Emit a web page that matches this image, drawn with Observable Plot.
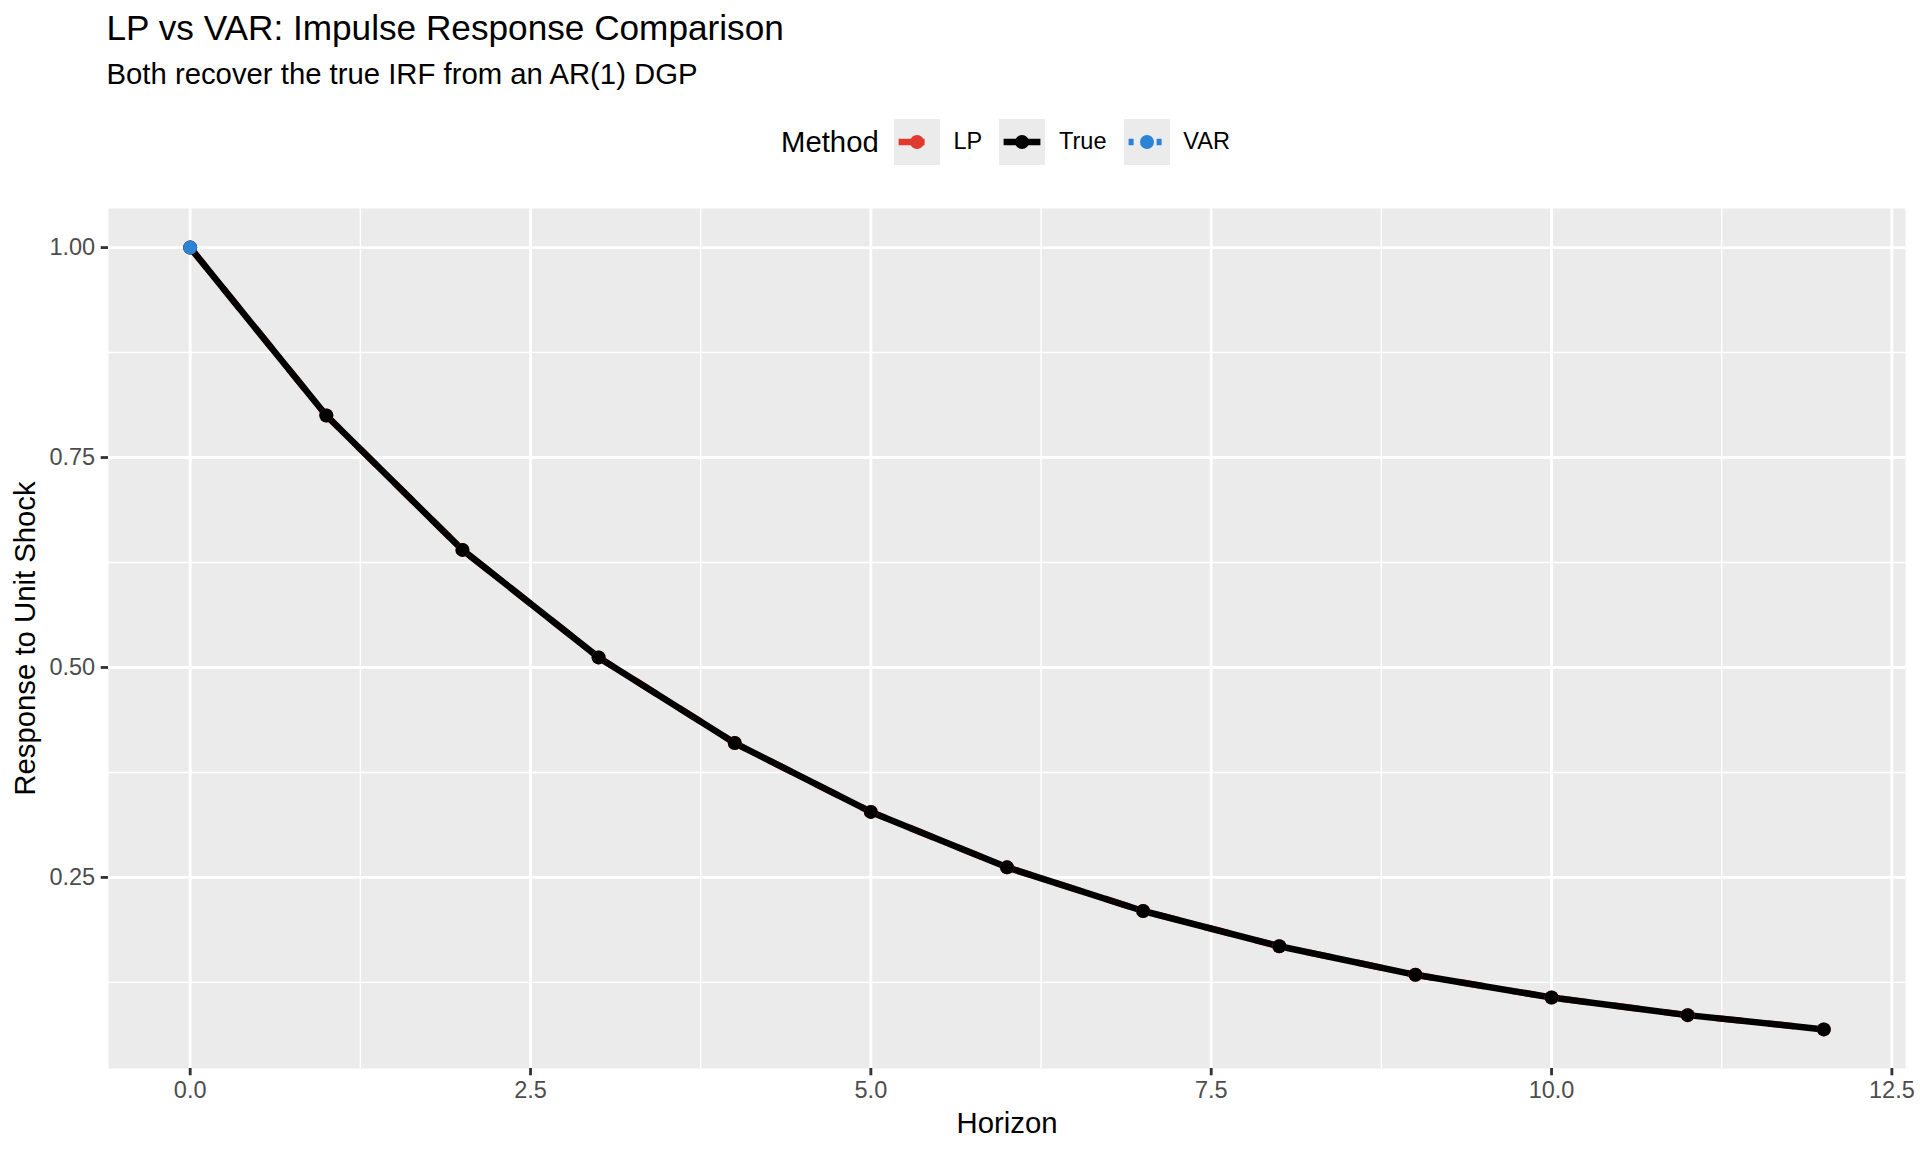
<!DOCTYPE html>
<html><head><meta charset="utf-8">
<script src="https://cdn.jsdelivr.net/npm/d3@7"></script>
<script src="https://cdn.jsdelivr.net/npm/@observablehq/plot@0.6"></script>
<style>
body{margin:0;background:#fff;font-family:"Liberation Sans",Arial,Helvetica,sans-serif;}
#wrap{position:relative;width:1920px;height:1152px;background:#fff;}
#head{position:relative;width:1920px;height:170px;}
.t{position:absolute;white-space:nowrap;line-height:1;color:#000;}
#legend{position:absolute;left:781px;top:119px;height:46px;display:flex;align-items:center;}
#legend .lt{font-size:29.3px;line-height:1;margin-right:15px;}
#legend .lab{font-size:23.5px;line-height:1;margin-left:13.8px;margin-right:17px;}
#legend svg{display:block;}
</style></head><body>
<div id="wrap">
  <div id="head">
    <div class="t" id="title" style="left:106.5px;top:9.5px;font-size:35.2px;"></div>
    <div class="t" id="subtitle" style="left:106.5px;top:58.5px;font-size:29.3px;"></div>
    <div id="legend"></div>
  </div>
  <div id="chart"></div>
</div>
<script>
// ---- data ----
const horizon = [0, 1, 2, 3, 4, 5, 6, 7, 8, 9, 10, 11, 12];
const trueIRF = [1.000, 0.800, 0.640, 0.512, 0.410, 0.328, 0.262, 0.210, 0.168, 0.134, 0.107, 0.086, 0.069];
const lpIRF   = [1.000, 0.800, 0.640, 0.512, 0.410, 0.328, 0.262, 0.210, 0.168, 0.134, 0.107, 0.086, 0.069];
const varHorizon = [0];
const varIRF = [1.000];
const methods = ["LP", "True", "VAR"];
const xTicks = [0, 2.5, 5, 7.5, 10, 12.5];
const xMinor = [1.25, 3.75, 6.25, 8.75, 11.25];
const yTicks = [0.25, 0.50, 0.75, 1.00];
const yMinor = [0.125, 0.375, 0.625, 0.875];
const titleText = "LP vs VAR: Impulse Response Comparison";
const subtitleText = "Both recover the true IRF from an AR(1) DGP";
const legendTitle = "Method";
const xLabel = "Horizon";
const yLabel = "Response to Unit Shock";

// ---- styles ----
const colors = {LP: "#E0392F", True: "#000000", VAR: "#2B83D6"};
const dashes = {LP: "26,26", True: null, VAR: "5,23"};
const lineW = 6.5;
const dotR = 7;
const panelFill = "#EBEBEB";

document.getElementById("title").textContent = titleText;
document.getElementById("subtitle").textContent = subtitleText;

// ---- legend ----
const legend = document.getElementById("legend");
const lt = document.createElement("div");
lt.className = "lt"; lt.textContent = legendTitle;
legend.appendChild(lt);
const ns = "http://www.w3.org/2000/svg";
methods.forEach(m => {
  const svg = document.createElementNS(ns, "svg");
  svg.setAttribute("width", 46); svg.setAttribute("height", 46);
  const r = document.createElementNS(ns, "rect");
  r.setAttribute("width", 46); r.setAttribute("height", 46); r.setAttribute("fill", panelFill);
  svg.appendChild(r);
  const l = document.createElementNS(ns, "line");
  l.setAttribute("x1", 4.6); l.setAttribute("x2", 41.4); l.setAttribute("y1", 23); l.setAttribute("y2", 23);
  l.setAttribute("stroke", colors[m]); l.setAttribute("stroke-width", lineW);
  l.setAttribute("stroke-linecap", "butt");
  if (dashes[m]) l.setAttribute("stroke-dasharray", dashes[m]);
  svg.appendChild(l);
  const c = document.createElementNS(ns, "circle");
  c.setAttribute("cx", 23); c.setAttribute("cy", 23); c.setAttribute("r", dotR); c.setAttribute("fill", colors[m]);
  svg.appendChild(c);
  legend.appendChild(svg);
  const lab = document.createElement("div");
  lab.className = "lab"; lab.textContent = m;
  legend.appendChild(lab);
});

// ---- chart ----
const trueData = horizon.map((h, i) => ({h, v: trueIRF[i]}));
const lpData = horizon.map((h, i) => ({h, v: lpIRF[i]}));
const varData = varHorizon.map((h, i) => ({h, v: varIRF[i]}));

const allV = trueIRF.concat(lpIRF, varIRF);
const vMin = d3.min(allV), vMax = d3.max(allV);
const yPad = (vMax - vMin) * 0.05;
const xPad = (d3.max(horizon) - d3.min(horizon)) * 0.05;

const chart = Plot.plot({
  width: 1920,
  height: 982,
  marginTop: 38,
  marginBottom: 84,
  marginLeft: 108,
  marginRight: 15,
  x: {domain: [d3.min(horizon) - xPad, d3.max(horizon) + xPad]},
  y: {domain: [vMin - yPad, vMax + yPad]},
  style: {fontFamily: '"Liberation Sans", Arial, Helvetica, sans-serif', background: "white", color: "#4D4D4D", overflow: "visible"},
  marks: [
    Plot.frame({fill: panelFill, stroke: "none"}),
    Plot.gridX(xMinor, {stroke: "white", strokeOpacity: 1, strokeWidth: 1.42}),
    Plot.gridY(yMinor, {stroke: "white", strokeOpacity: 1, strokeWidth: 1.42}),
    Plot.gridX(xTicks, {stroke: "white", strokeOpacity: 1, strokeWidth: 2.85}),
    Plot.gridY(yTicks, {stroke: "white", strokeOpacity: 1, strokeWidth: 2.85}),
    Plot.line(lpData, {x: "h", y: "v", stroke: colors.LP, strokeWidth: lineW, strokeDasharray: dashes.LP, strokeLinecap: "butt"}),
    Plot.line(trueData, {x: "h", y: "v", stroke: colors.True, strokeWidth: lineW, strokeLinecap: "butt"}),
    Plot.line(varData, {x: "h", y: "v", stroke: colors.VAR, strokeWidth: lineW, strokeDasharray: dashes.VAR, strokeLinecap: "butt"}),
    Plot.dot(lpData, {x: "h", y: "v", r: dotR, fill: colors.LP}),
    Plot.dot(trueData, {x: "h", y: "v", r: dotR, fill: colors.True}),
    Plot.dot(varData, {x: "h", y: "v", r: dotR, fill: colors.VAR}),
    Plot.axisX({ticks: xTicks, tickFormat: d => d.toFixed(1), tickSize: 7.3, tickPadding: 5.5, fontSize: 23.5, label: null, stroke: "#333333", strokeWidth: 2.85, fill: "#4D4D4D"}),
    Plot.axisY({ticks: yTicks, tickFormat: d => d.toFixed(2), tickSize: 7.3, tickPadding: 6, fontSize: 23.5, label: null, stroke: "#333333", strokeWidth: 2.85, fill: "#4D4D4D"}),
    Plot.text([xLabel], {frameAnchor: "bottom", lineAnchor: "top", textAnchor: "middle", dy: 44, fontSize: 29.3, fill: "#000"}),
    Plot.text([yLabel], {frameAnchor: "left", lineAnchor: "top", textAnchor: "middle", rotate: -90, dx: -94, fontSize: 29.3, fill: "#000"})
  ]
});
document.getElementById("chart").appendChild(chart);
</script>
</body></html>
